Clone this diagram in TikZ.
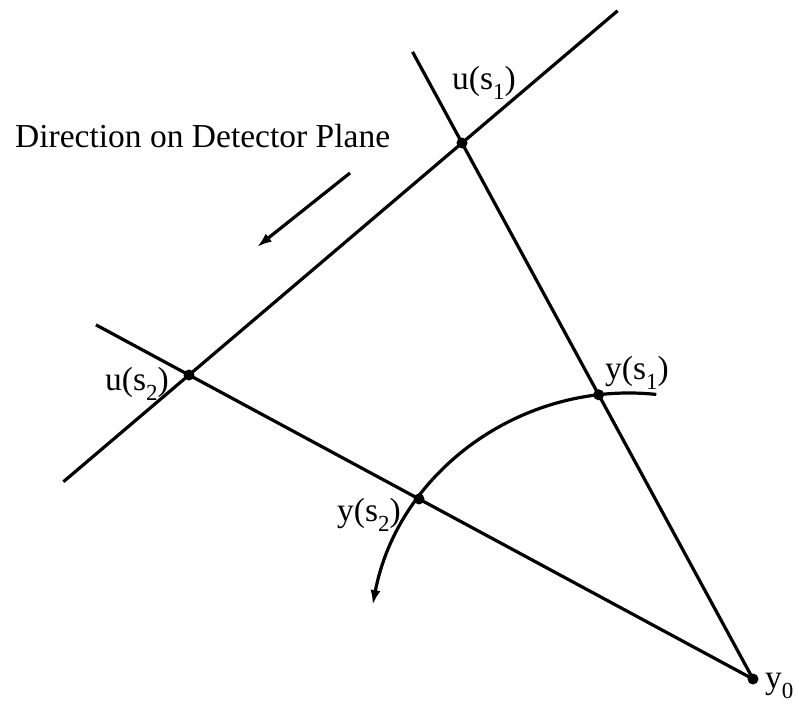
\documentclass[tikz,border=0pt]{standalone}
\usepackage{fontspec}
\setmainfont{Liberation Serif}
\usetikzlibrary{arrows.meta, calc}
\newcommand{\lowidx}[1]{\raisebox{-0.3em}{\fontsize{23}{23}\selectfont #1}}

\begin{document}
\begin{tikzpicture}[x=1pt, y=-1pt,
    ray/.style={line width=3.2pt},
    dot/.style={circle, fill=black, inner sep=0pt, minimum size=11pt},
    lbl/.style={anchor=base west, inner sep=0pt, font=\fontsize{33.5}{40}\selectfont},
    arr/.style={line width=3.2pt, -{Latex[length=15pt, width=10pt]}}
  ]
  \useasboundingbox (0,0) rectangle (799,705);

  % source point and detector points
  \coordinate (y0) at (753,679);
  \coordinate (us1) at (462,143);
  \coordinate (us2) at (189,375);
  \coordinate (ctr) at (629,654);

  % detector line
  \draw[ray] ($(us2)!-0.46!(us1)$) -- ($(us2)!1.57!(us1)$);

  % rays from y0
  \draw[ray] (y0) -- ($(y0)!1.17!(us1)$);
  \draw[ray] (y0) -- ($(y0)!1.165!(us2)$);

  % source trajectory
  \draw[arr] ($(ctr)+(-84:261)$) arc[start angle=-84, end angle=-169.2, radius=261];

  % dots
  \node[dot] (py0) at (y0) {};
  \node[dot] (pus1) at (us1) {};
  \node[dot] (pus2) at (us2) {};
  \node[dot] (pys1) at ($(y0)!0.5303!(us1)$) {};
  \node[dot] (pys2) at ($(y0)!0.5922!(us2)$) {};

  % labels
  \node[lbl] (lus1) at (452,89) {u(s\lowidx{1})};
  \node[lbl] (lus2) at (105,390) {u(s\lowidx{2})};
  \node[lbl] (lys1) at (605,379) {y(s\lowidx{1})};
  \node[lbl] (lys2) at (337,521) {y(s\lowidx{2})};
  \node[lbl] (ly0) at (765,688) {y\lowidx{0}};

  % direction note
  \node[lbl] (dirlbl) at (15,147) {Direction on Detector Plane};
  \coordinate (dirA) at (350,173);
  \coordinate (dirB) at (257,247);
  \draw[arr] (dirA) -- (dirB);
\end{tikzpicture}
\end{document}
